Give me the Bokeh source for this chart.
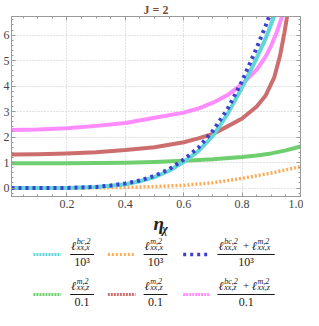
import numpy as np
from bokeh.plotting import figure
from bokeh.models import Range1d, LinearAxis, FixedTicker
from bokeh.layouts import column
from bokeh.embed import file_html
from bokeh.resources import INLINE
from bokeh.core.properties import value

FONT = "Liberation Serif"

# ---------------- data ----------------
title_text = "J = 2"
xlabel_main = "η"
xlabel_sub = "χ"

x_ticks = [0.2, 0.4, 0.6, 0.8, 1.0]
x_tick_labels = ["0.2", "0.4", "0.6", "0.8", "1.0"]
y_ticks = [0, 1, 2, 3, 4, 5, 6]
y_tick_labels = ["0", "1", "2", "3", "4", "5", "6"]

# l^{bc,2}_{xx,x} / 10^3  (cyan)
cyan_x = [0.01, 0.1, 0.2, 0.3, 0.35, 0.4, 0.45, 0.5, 0.55, 0.6, 0.65, 0.7, 0.75, 0.8, 0.85, 0.88, 0.91, 0.93]
cyan_y = [0.0, 0.0, 0.005, 0.04, 0.09, 0.15, 0.27, 0.43, 0.68, 1.02, 1.45, 2.05, 2.9, 3.95, 5.1, 5.85, 6.75, 7.4]
# l^{m,2}_{xx,x} / 10^3  (orange)
orange_x = [0.01, 0.2, 0.3, 0.4, 0.5, 0.6, 0.7, 0.8, 0.9, 1.0]
orange_y = [0.0, 0.0, 0.01, 0.03, 0.06, 0.11, 0.21, 0.38, 0.59, 0.84]
# (l^{bc,2}_{xx,x} + l^{m,2}_{xx,x}) / 10^3  (blue, dotted)
blue_x = [0.01, 0.1, 0.2, 0.3, 0.35, 0.4, 0.45, 0.5, 0.55, 0.6, 0.65, 0.7, 0.75, 0.8, 0.85, 0.88, 0.9, 0.92]
blue_y = [0.0, 0.0, 0.005, 0.045, 0.1, 0.18, 0.3, 0.48, 0.74, 1.12, 1.58, 2.25, 3.1, 4.2, 5.5, 6.35, 6.95, 7.6]
# l^{m,2}_{xx,z} / 0.1  (green)
green_x = [0.01, 0.2, 0.4, 0.5, 0.6, 0.7, 0.8, 0.85, 0.9, 0.95, 1.0]
green_y = [0.97, 0.97, 0.99, 1.02, 1.07, 1.13, 1.22, 1.28, 1.36, 1.48, 1.63]
# l^{m,2}_{xx,z} / 0.1  (red)
red_x = [0.01, 0.1, 0.2, 0.3, 0.4, 0.5, 0.6, 0.65, 0.7, 0.75, 0.8, 0.85, 0.88, 0.91, 0.93, 0.945, 0.955, 0.965]
red_y = [1.32, 1.33, 1.36, 1.41, 1.49, 1.6, 1.8, 1.95, 2.12, 2.42, 2.73, 3.2, 3.62, 4.34, 5.2, 6.1, 6.8, 7.5]
# (l^{bc,2}_{xx,z} + l^{m,2}_{xx,z}) / 0.1  (magenta)
mag_x = [0.01, 0.1, 0.2, 0.3, 0.4, 0.5, 0.6, 0.65, 0.7, 0.75, 0.8, 0.85, 0.88, 0.9, 0.92, 0.94, 0.95]
mag_y = [2.28, 2.3, 2.35, 2.44, 2.55, 2.76, 2.96, 3.12, 3.35, 3.65, 4.08, 4.65, 5.15, 5.6, 6.15, 6.85, 7.3]

# legend entries: list of (superscript, subscript) terms, denominator
leg_terms = [
    [("bc,2", "xx,x")],
    [("m,2", "xx,x")],
    [("bc,2", "xx,x"), ("m,2", "xx,x")],
    [("m,2", "xx,z")],
    [("m,2", "xx,z")],
    [("bc,2", "xx,z"), ("m,2", "xx,z")],
]
leg_denoms = ["10³", "10³", "10³", "0.1", "0.1", "0.1"]

C_CYAN = "#62d6d6"
C_ORANGE = "#ffab55"
C_BLUE = "#3f3fcf"
C_GREEN = "#6fcf6f"
C_RED = "#cc6e6e"
C_MAG = "#ff8cff"

leg_colors = [C_CYAN, C_ORANGE, C_BLUE, C_GREEN, C_RED, C_MAG]
leg_dash = ["2 1", "2 2", "3 4", "2 1", "2 1", "2 1"]
leg_width = [3, 3, 3.5, 3, 3, 3]

# ---------------- main plot ----------------
AX = "#9a9a9a"
p = figure(width=303, height=210, x_range=Range1d(0.01, 1.0), y_range=Range1d(-0.33, 6.73),
           output_backend="svg", toolbar_location=None,
           min_border_left=0, min_border_right=3, min_border_top=0, min_border_bottom=2)
p.title.text = title_text
p.title.align = "center"
p.title.text_font = FONT
p.title.text_font_size = "12px"
p.title.text_font_style = "bold"
p.title.text_color = "#7b5030"
p.title.standoff = 0
p.title.offset = 0
p.outline_line_color = AX
p.background_fill_color = "white"
p.border_fill_color = "white"

x_minor = list(np.round(np.arange(0.0, 1.0001, 0.05), 3))
y_minor = list(np.round(np.arange(-0.2, 6.8, 0.2), 3))
xt = FixedTicker(ticks=x_ticks, minor_ticks=x_minor)
yt = FixedTicker(ticks=y_ticks, minor_ticks=y_minor)


def style_axis(ax, labels):
    ax.axis_line_color = AX
    ax.major_tick_line_color = AX
    ax.minor_tick_line_color = AX
    ax.major_tick_in = 4
    ax.major_tick_out = 0
    ax.minor_tick_in = 2
    ax.minor_tick_out = 0
    if labels:
        ax.major_label_text_font = FONT
        ax.major_label_text_font_size = "12px"
        ax.major_label_text_color = "#444444"
        ax.major_label_standoff = 3
    else:
        ax.major_label_text_font_size = "1px"
        ax.major_label_text_color = None
        ax.major_label_standoff = 0
        ax.axis_label_standoff = 0


p.xaxis.ticker = xt
p.xaxis.major_label_overrides = {t: l for t, l in zip(x_ticks, x_tick_labels)}
p.yaxis.ticker = yt
p.yaxis.major_label_overrides = {t: l for t, l in zip(y_ticks, y_tick_labels)}
style_axis(p.xaxis[0], True)
style_axis(p.yaxis[0], True)
p.yaxis.major_label_standoff = 2

top = LinearAxis(ticker=xt)
style_axis(top, False)
p.add_layout(top, "above")
right = LinearAxis(ticker=yt)
style_axis(right, False)
p.add_layout(right, "right")

p.xgrid.ticker = xt
p.ygrid.ticker = yt
for g in (p.xgrid[0], p.ygrid[0]):
    g.grid_line_color = "#c4c4c4"
    g.grid_line_dash = "1 2"
    g.grid_line_width = 1

p.line(green_x, green_y, line_width=4, color=C_GREEN, line_join="round")
p.line(red_x, red_y, line_width=4, color=C_RED, line_join="round")
p.line(mag_x, mag_y, line_width=4, color=C_MAG, line_join="round")
p.line(orange_x, orange_y, line_width=3.5, color=C_ORANGE, line_dash="2 2")
p.line(cyan_x, cyan_y, line_width=4, color=C_CYAN, line_join="round")
p.line(blue_x, blue_y, line_width=4, color=C_BLUE, line_dash="3 4")

# ---------------- legend / axis label panel ----------------
H2 = 100
q = figure(width=303, height=H2, x_range=Range1d(0, 303), y_range=Range1d(H2, 0),
           output_backend="svg", toolbar_location=None,
           x_axis_location=None, y_axis_location=None,
           min_border=0)
q.outline_line_color = None
q.xgrid.visible = False
q.ygrid.visible = False
q.background_fill_color = "white"
q.border_fill_color = "white"

# axis label eta_chi
q.text(x=[149], y=[13], text=[xlabel_main], text_font=value(FONT), text_font_size="19px",
       text_font_style="bold italic", text_align="left", text_baseline="middle", text_color="#222222")
q.text(x=[158], y=[18], text=[xlabel_sub], text_font=value(FONT), text_font_size="12px",
       text_font_style="bold italic", text_align="left", text_baseline="middle", text_color="#222222")

sw_x0 = [23, 101, 180, 23, 101, 180]
sw_x1 = [52, 130, 208, 52, 130, 208]
frac_cx = [74, 151, 246, 74, 151, 246]
row_y = [44, 44, 44, 84, 84, 84]

TXT = "#1a1a1a"
for i in range(6):
    yb = row_y[i]
    q.line([sw_x0[i], sw_x1[i]], [yb, yb], line_width=leg_width[i], color=leg_colors[i],
           line_dash=leg_dash[i])
    terms = leg_terms[i]
    tw = 23
    gap = 12
    total = tw * len(terms) + gap * (len(terms) - 1)
    x0 = frac_cx[i] - total / 2
    xs_l, xs_s, ys_sup, ys_sub, sups, subs = [], [], [], [], [], []
    for k, (sup, sub) in enumerate(terms):
        xl = x0 + k * (tw + gap)
        xs_l.append(xl)
        xs_s.append(xl + 6)
        sups.append(sup)
        subs.append(sub)
        ys_sup.append(yb - 13)
        ys_sub.append(yb - 7)
    q.text(x=xs_l, y=[yb - 8.5] * len(xs_l), text=["ℓ"] * len(xs_l), text_font=value(FONT),
           text_font_size="12px", text_font_style="italic", text_align="left",
           text_baseline="middle", text_color=TXT)
    q.text(x=xs_s, y=ys_sup, text=sups, text_font=value(FONT), text_font_size="8px",
           text_font_style="italic", text_align="left", text_baseline="middle", text_color=TXT)
    q.text(x=xs_s, y=ys_sub, text=subs, text_font=value(FONT), text_font_size="8px",
           text_font_style="italic", text_align="left", text_baseline="middle", text_color=TXT)
    if len(terms) > 1:
        q.text(x=[x0 + tw + gap / 2], y=[yb - 9], text=["+"], text_font=value(FONT),
               text_font_size="11px", text_align="center", text_baseline="middle", text_color=TXT)
    q.line([x0 - 1, x0 + total + 1], [yb, yb], line_width=1, color=TXT)
    q.text(x=[frac_cx[i]], y=[yb + 7.5], text=[leg_denoms[i]], text_font=value(FONT),
           text_font_size="12px", text_align="center", text_baseline="middle", text_color=TXT)

layout = column(p, q)
open("out.html", "w").write(file_html(layout, INLINE))
